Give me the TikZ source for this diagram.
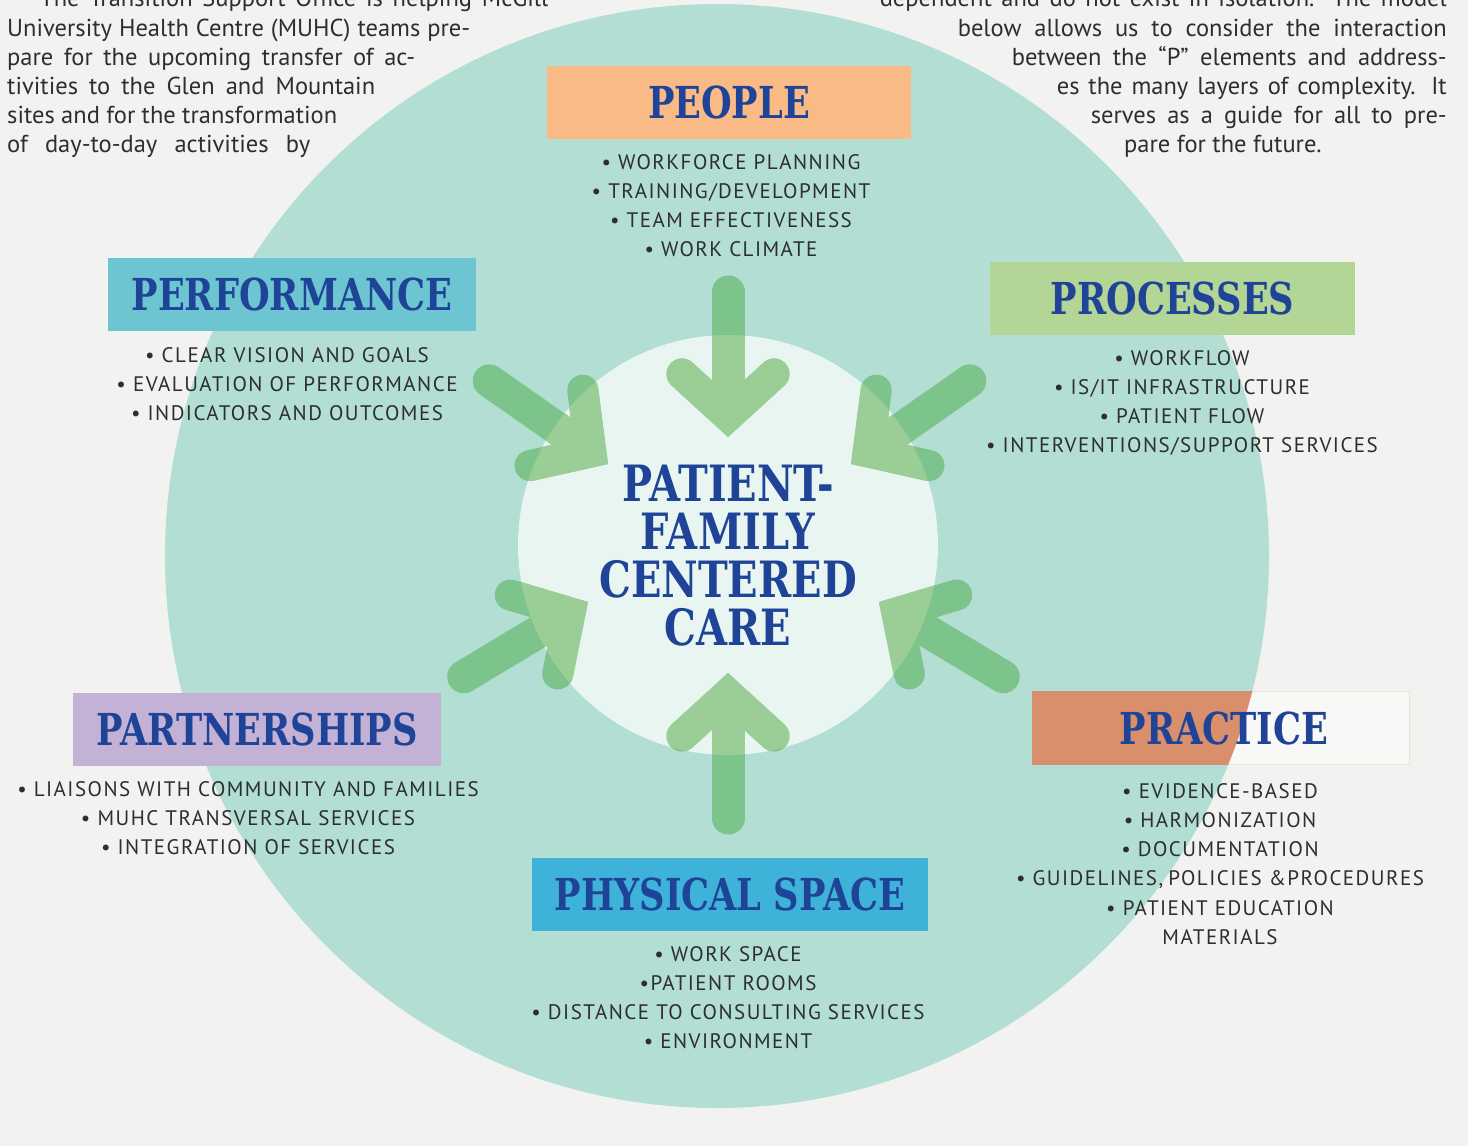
\documentclass[tikz,border=0pt]{standalone}
\usepackage{fontspec}
\setmainfont{PT Sans}
\newfontfamily\slab{DejaVu Serif}[FakeStretch=0.80]
\newfontfamily\listfont{PT Sans}[LetterSpace=7]

\definecolor{paper}{HTML}{F2F2F0}
\definecolor{ring}{HTML}{B2DED4}
\definecolor{core}{HTML}{E8F5F1}
\definecolor{arrowout}{HTML}{7DC38C}
\definecolor{arrowin}{HTML}{9BCE96}
\definecolor{ink}{HTML}{1F4396}
\definecolor{txt}{HTML}{2E2E2E}
\definecolor{peach}{HTML}{F9BA85}
\definecolor{cyanbox}{HTML}{6DC5D1}
\definecolor{limebox}{HTML}{B3D595}
\definecolor{lilac}{HTML}{C3B1D6}
\definecolor{skybox}{HTML}{3FB2D9}
\definecolor{rust}{HTML}{D98F6C}
\definecolor{pale}{HTML}{F8F8F6}
\definecolor{paleedge}{HTML}{F0DDD4}

% one inward arrow: tip position and pointing angle
\newcommand\pfarrow[3]{%
  \begin{scope}[shift={(#1,#2)}, rotate=#3]
    \draw[line width=33, line cap=round] (-145,0) -- (-40,0);
    \draw[line width=31, line cap=round, line join=miter] (-63,46) -- (-21,0) -- (-63,-46);
  \end{scope}}
\newcommand\allarrows{%
  \pfarrow{728}{437}{-90}
  \pfarrow{608}{464}{-35}
  \pfarrow{851}{464}{-145}
  \pfarrow{588}{602}{31}
  \pfarrow{879}{602}{149}
  \pfarrow{728}{673}{90}}

\tikzset{
  title/.style={inner sep=0, minimum height=73, text=ink,
    font=\slab\bfseries\fontsize{44}{48}\selectfont},
  item/.style={inner sep=0, anchor=base, text=txt,
    font=\listfont\fontsize{21}{24}\selectfont},
  para/.style={inner sep=0, anchor=base west, text=txt,
    font=\fontsize{24.5}{28}\selectfont},
  parar/.style={para, anchor=base east},
}

\begin{document}
\begin{tikzpicture}[x=1pt, y=-1pt]
  \useasboundingbox (0,0) rectangle (1468,1146);
  \clip (0,0) rectangle (1468,1146);
  \fill[paper] (0,0) rectangle (1468,1146);

  % rings
  \fill[ring] (717,556) circle (552);
  \fill[core] (728,545) circle (210);

  % arrows, lighter where they cross the core
  \begin{scope}[draw=arrowout]
    \allarrows
  \end{scope}
  \begin{scope}
    \clip (728,545) circle (210);
    \begin{scope}[draw=arrowin]
      \allarrows
    \end{scope}
  \end{scope}

  % centre label
  \node[align=center, text=ink, inner sep=0,
        font=\slab\bfseries\fontsize{50}{48}\selectfont] (centre) at (728,556)
        {PATIENT-\\FAMILY\\CENTERED\\CARE};

  % category boxes
  \node[title, fill=peach, minimum width=364] (people) at (729,102.5) {PEOPLE};
  \node[title, fill=cyanbox, minimum width=368] (performance) at (292,294.5) {PERFORMANCE};
  \node[title, fill=limebox, minimum width=365] (processes) at (1172.5,298) {PROCESSES};
  \node[title, fill=lilac, minimum width=368] (partnerships) at (257,729.5) {PARTNERSHIPS};
  \node[title, fill=skybox, minimum width=396] (physical) at (730,894.5) {PHYSICAL SPACE};
  \node[title, fill=pale, draw=paleedge, line width=1, minimum width=377] (practicebg) at (1220.5,728) {};
  \begin{scope}
    \clip (717,556) circle (552);
    \fill[rust] (practicebg.south west) rectangle (practicebg.north east);
  \end{scope}
  \node[title] (practice) at (1224,728) {PRACTICE};

  % item lists
  \foreach \t [count=\i] in {\textbullet\ WORKFORCE PLANNING, \textbullet\ TRAINING/DEVELOPMENT,
      \textbullet\ TEAM EFFECTIVENESS, \textbullet\ WORK CLIMATE}
    \node[item] (people-\i) at (731,{169+(\i-1)*29.3}) {\t};
  \foreach \t [count=\i] in {\textbullet\ CLEAR VISION AND GOALS, \textbullet\ EVALUATION OF PERFORMANCE,
      \textbullet\ INDICATORS AND OUTCOMES}
    \node[item] (performance-\i) at (287,{362+(\i-1)*29.3}) {\t};
  \foreach \t [count=\i] in {\textbullet\ WORKFLOW, \textbullet\ IS/IT INFRASTRUCTURE,
      \textbullet\ PATIENT FLOW, \textbullet\ INTERVENTIONS/SUPPORT SERVICES}
    \node[item] (processes-\i) at (1182,{365+(\i-1)*29.3}) {\t};
  \foreach \t [count=\i] in {\textbullet\ LIAISONS WITH COMMUNITY AND FAMILIES,
      \textbullet\ MUHC TRANSVERSAL SERVICES, \textbullet\ INTEGRATION OF SERVICES}
    \node[item] (partnerships-\i) at (248,{796+(\i-1)*29.3}) {\t};
  \foreach \t [count=\i] in {\textbullet\ WORK SPACE, \textbullet PATIENT ROOMS,
      \textbullet\ DISTANCE TO CONSULTING SERVICES, \textbullet\ ENVIRONMENT}
    \node[item] (physical-\i) at (728,{961+(\i-1)*29.3}) {\t};
  \foreach \t [count=\i] in {\textbullet\ EVIDENCE-BASED, \textbullet\ HARMONIZATION,
      \textbullet\ DOCUMENTATION, {\textbullet\ GUIDELINES,\kern-2pt\ POLICIES \&PROCEDURES},
      \textbullet\ PATIENT EDUCATION, MATERIALS}
    \node[item] (practice-\i) at (1220,{798+(\i-1)*29.3}) {\t};

  % surrounding text
  \node[para] (l0) at (40,6) {\makebox[508pt][s]{The Transition Support Office is helping McGill}};
  \node[para] (l1) at (7,36) {\makebox[463pt][s]{University Health Centre (MUHC) teams pre-}};
  \node[para] (l2) at (7,65) {\makebox[408pt][s]{pare for the upcoming transfer of ac-}};
  \node[para] (l3) at (7,94) {\makebox[368pt][s]{tivities to the Glen and Mountain}};
  \node[para] (l4) at (7,123) {\makebox[330pt][s]{sites and for the transformation}};
  \node[para] (l5) at (7,152) {\makebox[303pt][s]{of day-to-day activities by}};

  \node[parar] (r0) at (1447,6) {\makebox[567pt][s]{dependent and do not exist in isolation. The model}};
  \node[parar] (r1) at (1447,36) {\makebox[489pt][s]{below allows us to consider the interaction}};
  \node[parar] (r2) at (1447,65) {\makebox[435pt][s]{between the “P” elements and address-}};
  \node[parar] (r3) at (1447,94) {\makebox[390pt][s]{es the many layers of complexity. It}};
  \node[parar] (r4) at (1447,123) {\makebox[356pt][s]{serves as a guide for all to pre-}};
  \node[para] (r5) at (1124,152) {pare for the future.};
\end{tikzpicture}
\end{document}
